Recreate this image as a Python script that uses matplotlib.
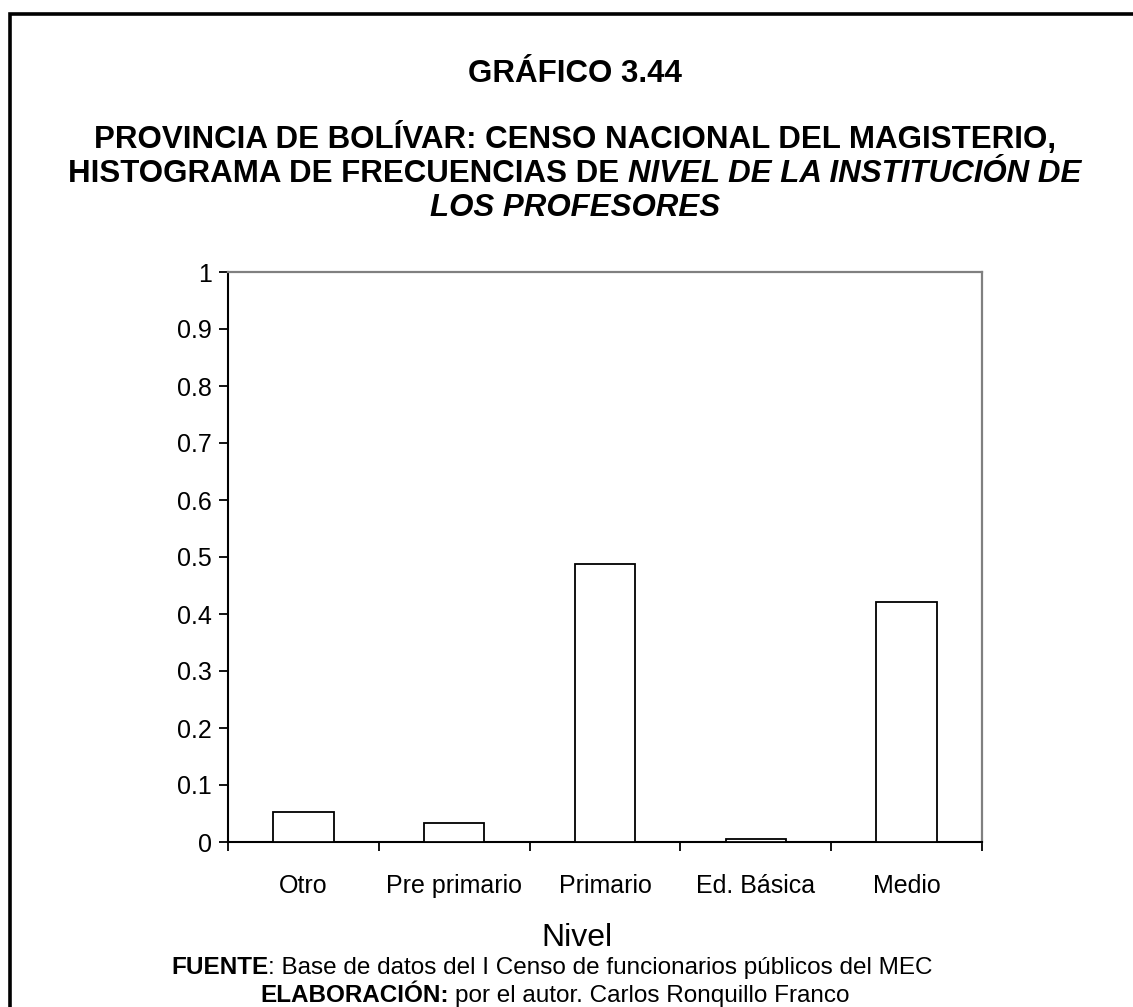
#Frequency histogram of the institution level of teachers (Bolivar province)
import matplotlib
matplotlib.use("Agg")
import matplotlib.pyplot as plt
from matplotlib.patches import Rectangle

#Data
niveles = ["Otro", "Pre primario", "Primario", "Ed. Básica", "Medio"]
frecuencias = [0.052, 0.034, 0.488, 0.006, 0.421]
y_ticks = [0, 0.1, 0.2, 0.3, 0.4, 0.5, 0.6, 0.7, 0.8, 0.9, 1]

W, H = 1133, 1007
plt.rcParams['font.family'] = ['Liberation Sans', 'DejaVu Sans']

fig = plt.figure(figsize=(W / 100, H / 100), dpi=100)
fig.patch.set_facecolor("white")

#Outer frame (right and bottom edges fall outside the picture)
fig.add_artist(Rectangle((10 / W, -0.2), 1.5, 1.2 - 14 / H,
                         transform=fig.transFigure, fill=False,
                         edgecolor="black", linewidth=2.6))

#Plot area
ax = fig.add_axes([228 / W, 1 - 842 / H, 754 / W, 570 / H])
centros = [i + 0.5 for i in range(len(niveles))]
ax.bar(centros, frecuencias, width=0.4, color="white",
       edgecolor="black", linewidth=1.3, zorder=3)

ax.set_xlim(0, len(niveles))
ax.set_ylim(0, 1)
ax.set_yticks(y_ticks)
ax.set_yticklabels([f"{v:g}" for v in y_ticks])
ax.set_xticks(range(len(niveles) + 1))
ax.set_xticklabels([])
ax.set_xticks(centros, minor=True)
ax.set_xticklabels(niveles, minor=True)

ax.tick_params(axis="y", direction="out", length=6.5, width=1.3,
               labelsize=18, pad=5)
ax.tick_params(axis="x", which="major", direction="out", length=6.5, width=1.3)
ax.tick_params(axis="x", which="minor", length=0, labelsize=18, pad=23)

for side in ["left", "bottom"]:
    ax.spines[side].set_color("black")
    ax.spines[side].set_linewidth(1.5)
for side in ["top", "right"]:
    ax.spines[side].set_color("#808080")
    ax.spines[side].set_linewidth(1.6)

#Axis title
fig.text(577 / W, 1 - 946 / H, "Nivel", fontsize=23, ha="center", va="baseline")

#Lines made of parts with mixed styles, centred as a whole
renderer = fig.canvas.get_renderer()


def centered_line(base_px, parts, size, xc_px=575):
    space = 0.278 * size * 100 / 72
    texts = []
    for txt, weight, style, gap in parts:
        t = fig.text(0, 1 - base_px / H, txt, fontsize=size, fontweight=weight,
                     fontstyle=style, ha="left", va="baseline")
        texts.append((t, gap))
    widths = [t.get_window_extent(renderer).width for t, g in texts]
    total = sum(widths) + sum(space for t, g in texts if g)
    x = xc_px - total / 2
    for (t, gap), w in zip(texts, widths):
        if gap:
            x += space
        t.set_x(x / W)
        x += w


centered_line(82, [("GRÁFICO 3.44", "bold", "normal", False)], 22.5)
centered_line(148, [("PROVINCIA DE BOLÍVAR: CENSO NACIONAL DEL MAGISTERIO,",
                     "bold", "normal", False)], 22.5)
centered_line(182, [("HISTOGRAMA DE FRECUENCIAS DE", "bold", "normal", False),
                    ("NIVEL DE LA INSTITUCIÓN DE", "bold", "italic", True)], 22.5)
centered_line(216, [("LOS PROFESORES", "bold", "italic", False)], 22.5)

centered_line(974, [("FUENTE", "bold", "normal", False),
                    (": Base de datos del I Censo de funcionarios públicos del MEC",
                     "normal", "normal", False)], 17.5, 552)
centered_line(1002, [("ELABORACIÓN:", "bold", "normal", False),
                     ("por el autor. Carlos Ronquillo Franco", "normal", "normal", True)],
              17.5, 555)

fig.savefig("out.png", dpi=100)
